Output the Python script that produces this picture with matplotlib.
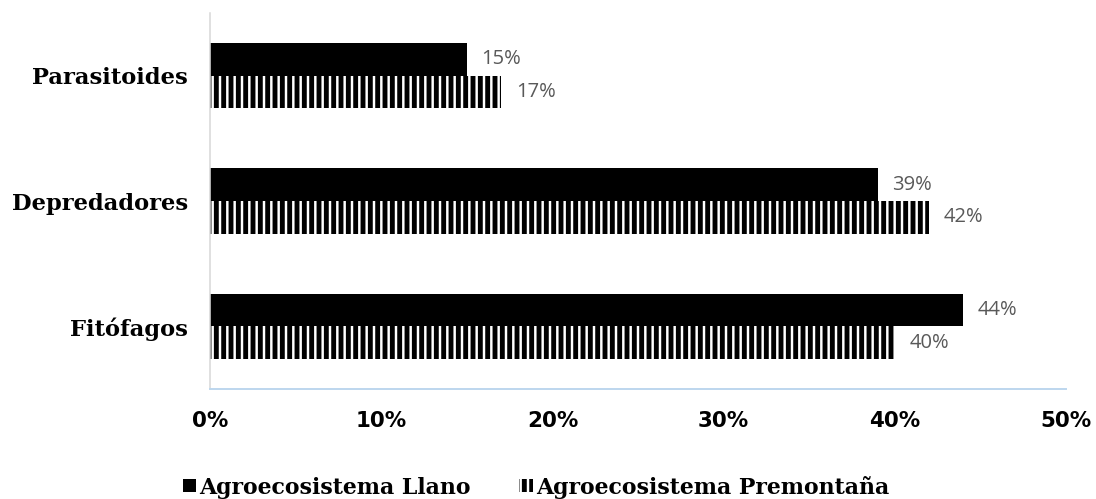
import matplotlib
matplotlib.use('Agg')
import matplotlib.pyplot as plt
import numpy as np

# ── Data ──────────────────────────────────────────────────────────────────────
categories = ['Fitófagos', 'Depredadores', 'Parasitoides']
llano = [44, 39, 15]
premontana = [40, 42, 17]
series_names = ['Agroecosistema Llano', 'Agroecosistema Premontaña']
x_ticks = [0, 10, 20, 30, 40, 50]

# hatch density is tied to dpi, so 88 dpi gives ~7 px stripe period
DPI = 88
plt.rcParams['hatch.linewidth'] = 4.0
plt.rcParams['hatch.color'] = 'black'

fig = plt.figure(figsize=(1096 / DPI, 499 / DPI), dpi=DPI)
fig.patch.set_facecolor('white')
ax = fig.add_axes([210 / 1096, 1 - 389 / 499, 856 / 1096, 376 / 499])

y = np.arange(len(categories))
h = 0.26
b1 = ax.barh(y + h / 2, llano, height=h, color='black', linewidth=0,
             label=series_names[0])
b2 = ax.barh(y - h / 2, premontana, height=h, facecolor='white',
             edgecolor='black', linewidth=0, hatch='||', label=series_names[1])

val_font = dict(family='Open Sans', fontsize=16.5, color='#595959')
for bars in (b1, b2):
    ax.bar_label(bars, labels=[f'{v:.0f}%' for v in bars.datavalues],
                 padding=12, **val_font)

ax.set_xlim(0, 50)
ax.set_ylim(-0.5, len(categories) - 0.5)
ax.set_xticks(x_ticks)
ax.set_xticklabels([f'{t}%' for t in x_ticks], fontsize=17.5,
                   fontweight='bold', family='DejaVu Sans')
ax.set_yticks(y)
ax.set_yticklabels(categories, fontsize=18.5, fontweight='bold',
                   family='DejaVu Serif')
ax.tick_params(axis='x', length=0, pad=18)
ax.tick_params(axis='y', length=0, pad=18)

for s in ('top', 'right'):
    ax.spines[s].set_visible(False)
ax.spines['left'].set_color('#d9d9d9')
ax.spines['left'].set_linewidth(1.3)
ax.spines['bottom'].set_color('#bdd7ee')
ax.spines['bottom'].set_linewidth(1.6)

fig.legend(handles=[b1, b2], loc='center left',
           bbox_to_anchor=(183 / 1096, 1 - 487 / 499), ncol=2, frameon=False,
           prop=dict(family='DejaVu Serif', weight='bold', size=18),
           handlelength=0.6, handleheight=0.5, handletextpad=0.15,
           columnspacing=2.2, borderpad=0, borderaxespad=0)

fig.savefig('out.png', dpi=DPI, facecolor='white')
